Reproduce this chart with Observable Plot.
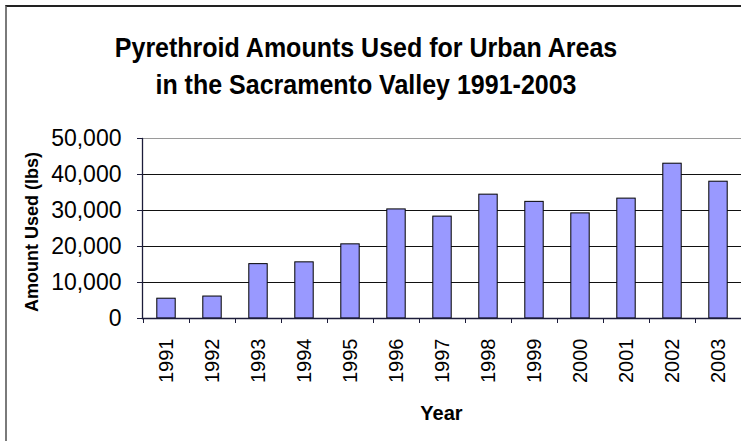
<!DOCTYPE html>
<html>
<head>
<meta charset="utf-8">
<script src="https://cdn.jsdelivr.net/npm/d3@7"></script>
<script src="https://cdn.jsdelivr.net/npm/@observablehq/plot@0.6"></script>
<style>
  html, body { margin: 0; padding: 0; background: #fff; }
  #wrap { position: relative; width: 741px; height: 441px; overflow: hidden; font-family: "Liberation Sans", Arial, sans-serif; color: #000; }
  #frame { position: absolute; left: 5px; top: 5px; width: 800px; height: 500px; border-left: 2px solid #7a7a7a; border-top: 2px solid #222; box-sizing: border-box; }
  #title { position: absolute; left: 0; top: 33px; width: 732px; text-align: center; font-weight: bold; font-size: 25px; line-height: 33px; transform: scaleY(1.12); transform-origin: 50% 50%; }
  #xlabel { position: absolute; left: 142px; width: 599px; top: 401px; text-align: center; font-weight: bold; font-size: 20px; line-height: 24px; }
  #ylabel { position: absolute; left: -68.5px; top: 222px; width: 200px; height: 20px; line-height: 20px; text-align: center; font-weight: bold; font-size: 18px; transform: rotate(-90deg); white-space: nowrap; }
  #chart { position: absolute; left: 0; top: 0; }
</style>
</head>
<body>
<div id="wrap">
  <div id="frame"></div>
  <div id="chart"></div>
  <div id="title">Pyrethroid Amounts Used for Urban Areas<br>in the Sacramento Valley 1991-2003</div>
  <div id="ylabel">Amount Used (lbs)</div>
  <div id="xlabel">Year</div>
</div>
<script>
const years = ["1991","1992","1993","1994","1995","1996","1997","1998","1999","2000","2001","2002","2003"];
const amounts = [5500, 6100, 15100, 15600, 20600, 30300, 28300, 34400, 32400, 29200, 33300, 43000, 38000];
const yTicks = [0, 10000, 20000, 30000, 40000, 50000];

const data = years.map((year, i) => ({year, amount: amounts[i]}));

const chart = Plot.plot({
  width: 741,
  height: 441,
  marginTop: 138,
  marginBottom: 123,
  marginLeft: 142,
  marginRight: 0,
  style: {fontFamily: '"Liberation Sans", Arial, sans-serif', fontSize: "20px", background: "transparent", color: "#000", overflow: "visible"},
  x: {domain: years, padding: 0, label: null},
  y: {domain: [0, 50000], label: null},
  marks: [
    Plot.ruleY(yTicks.filter(d => d > 0 && d < 50000), {stroke: "#111", strokeWidth: 1}),
    Plot.ruleY([50000], {stroke: "#9a9a9a", strokeWidth: 1}),
    Plot.barY(data, {x: "year", y: "amount", fill: "#9999ff", stroke: "#000", strokeWidth: 1, insetLeft: 13.8, insetRight: 13.8}),
    Plot.axisY({ticks: yTicks, tickFormat: d3.format(","), tickSize: 5, tickPadding: 16, fontSize: 23, label: null, stroke: "#1c1c3a"}),
    Plot.axisX({tickRotate: -90, tickSize: 0, tickPadding: 20, fontSize: 20, label: null}),
    Plot.frame({anchor: "left", stroke: "#1c1c3a", strokeWidth: 1.3}),
    Plot.frame({anchor: "bottom", stroke: "#1c1c3a", strokeWidth: 1.3})
  ]
});

// category-boundary tick marks below the x axis (Excel style), placed from the band scale
const xs = chart.scale("x");
const ys = chart.scale("y");
const y0 = ys.apply(0);
const bounds = years.map(y => xs.apply(y)).concat([xs.range[1]]);
d3.select(chart).append("g")
  .attr("stroke", "#1c1c3a")
  .selectAll("line")
  .data(bounds)
  .join("line")
  .attr("x1", d => Math.round(d) + 0.5)
  .attr("x2", d => Math.round(d) + 0.5)
  .attr("y1", y0)
  .attr("y2", y0 + 5);

document.getElementById("chart").appendChild(chart);
</script>
</body>
</html>
